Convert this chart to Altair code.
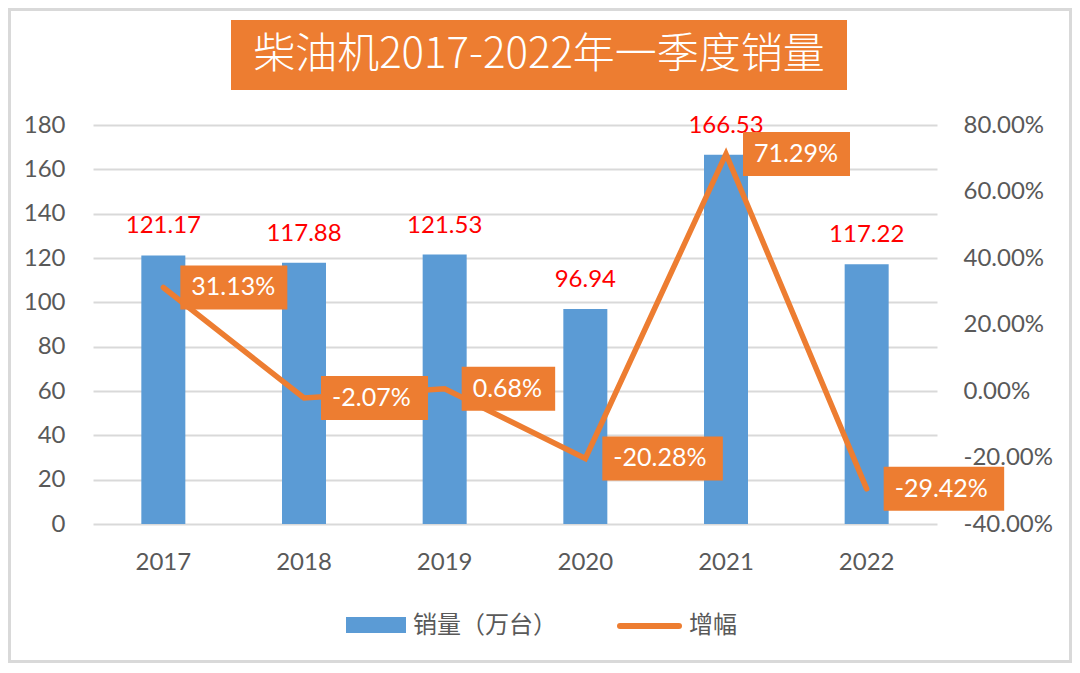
import altair as alt
import pandas as pd

# ---- data ----
years = ["2017", "2018", "2019", "2020", "2021", "2022"]
sales = [121.17, 117.88, 121.53, 96.94, 166.53, 117.22]
growth = [0.3113, -0.0207, 0.0068, -0.2028, 0.7129, -0.2942]
title_text = ["柴油机2017-2022年一季度销量"]
legend_bar = ["销量（万台）"]
legend_line = ["增幅"]
left_ticks = [0, 20, 40, 60, 80, 100, 120, 140, 160, 180]
right_ticks = [-0.4, -0.2, 0.0, 0.2, 0.4, 0.6, 0.8]

df = pd.DataFrame({"year": years, "sales": sales, "growth": growth})

W, H = 844, 399
BLUE = "#5B9BD5"
ORANGE = "#ED7D31"
GRAY = "#595959"
GRID = "#D9D9D9"
FONT = "Lato, Noto Sans CJK SC, sans-serif"
CJK = "Noto Sans CJK SC, sans-serif"
PCT = "replace(replace(format(datum.value, '.2%'), '\u2212', '-'), '−', '-')"

base = alt.Chart(df)

xenc = alt.X(
    "year:N",
    title=None,
    scale=alt.Scale(paddingInner=0, paddingOuter=0),
    axis=alt.Axis(
        labelAngle=0, labelFontSize=24, labelFont=FONT, labelColor=GRAY,
        labelPadding=26, ticks=False, tickSize=0, domain=False, grid=False,
    ),
)

yl = alt.Y(
    "sales:Q", title=None,
    scale=alt.Scale(domain=[0, 180], nice=False, zero=True),
    axis=alt.Axis(
        values=left_ticks, orient="left", labelFontSize=24, labelFont=FONT,
        labelColor=GRAY, labelPadding=28, ticks=False, tickSize=0,
        domain=False, grid=True, gridColor=GRID, gridWidth=2,
    ),
)

yr = alt.Y(
    "growth:Q", title=None,
    scale=alt.Scale(domain=[-0.4, 0.8], nice=False, zero=False),
    axis=alt.Axis(
        values=right_ticks, orient="right", labelFontSize=24, labelFont=FONT,
        labelColor=GRAY, labelPadding=26, ticks=False, tickSize=0,
        domain=False, grid=False, labelExpr=PCT,
    ),
)

bars = base.mark_bar(size=44, color=BLUE).encode(x=xenc, y=yl)

bar_labels = base.mark_text(
    color="#FF0000", fontSize=24, font=FONT, baseline="alphabetic", dy=-22
).encode(
    x=xenc, y=yl,
    text=alt.Text("sales:Q", format=".2f"),
)

left_layer = alt.layer(bars, bar_labels)

gbase = base.transform_calculate(
    glabel="replace(replace(format(datum.growth, '.2%'), '\u2212', '-'), '−', '-')"
).transform_calculate(
    box="'M17,-22H' + (43 + 13.5 * length(datum.glabel)) + 'V22H17Z'"
)

line = base.mark_line(
    color=ORANGE, strokeWidth=5.5, strokeCap="round", strokeJoin="miter"
).encode(x=xenc, y=yr)

boxes = gbase.mark_point(
    filled=True, size=4, opacity=1, color=ORANGE, strokeWidth=0
).encode(
    x=xenc, y=yr,
    shape=alt.Shape("box:N", scale=None, legend=None),
)

box_text = gbase.mark_text(
    color="white", fontSize=25, font=FONT, align="left", baseline="middle", dx=28
).encode(x=xenc, y=yr, text="glabel:N")

right_layer = alt.layer(line, boxes, box_text)

main = alt.layer(left_layer, right_layer).resolve_scale(y="independent")

# ---- decorations: title box, legend, frame ----
tdf = pd.DataFrame({"t": title_text})
title_box = alt.Chart(tdf).mark_rect(color=ORANGE).encode(
    x=alt.value(138), x2=alt.value(754), y=alt.value(-105), y2=alt.value(-35)
)
title_txt = alt.Chart(tdf).mark_text(
    font=CJK, fontSize=42, fontWeight=300, color="white", align="center", baseline="middle"
).encode(x=alt.value(446), y=alt.value(-70), text="t:N")

lb = pd.DataFrame({"t": legend_bar})
ll = pd.DataFrame({"t": legend_line})
leg_rect = alt.Chart(lb).mark_rect(color=BLUE).encode(
    x=alt.value(253), x2=alt.value(313), y=alt.value(492), y2=alt.value(508)
)
leg_rect_txt = alt.Chart(lb).mark_text(
    font=CJK, fontSize=24, color=GRAY, align="left", baseline="middle"
).encode(x=alt.value(320), y=alt.value(501), text="t:N")
leg_line = alt.Chart(ll).mark_rule(
    color=ORANGE, strokeWidth=6, strokeCap="round"
).encode(x=alt.value(527), x2=alt.value(586), y=alt.value(501))
leg_line_txt = alt.Chart(ll).mark_text(
    font=CJK, fontSize=24, color=GRAY, align="left", baseline="middle"
).encode(x=alt.value(596), y=alt.value(501), text="t:N")

frame = alt.Chart(tdf).mark_rect(
    fillOpacity=0, stroke=GRID, strokeWidth=3
).encode(
    x=alt.value(-83.5), x2=alt.value(977.5), y=alt.value(-115.5), y2=alt.value(536.5)
)

chart = alt.layer(
    main, title_box, title_txt, leg_rect, leg_rect_txt, leg_line, leg_line_txt, frame
).properties(
    width=W, height=H,
    padding={"left": 85, "top": 117, "right": 135, "bottom": 139},
    autosize=alt.AutoSizeParams(type="none"),
    background="white",
).configure_view(stroke=None)

chart.save("out.html", embed_options={"renderer": "svg", "actions": False})
